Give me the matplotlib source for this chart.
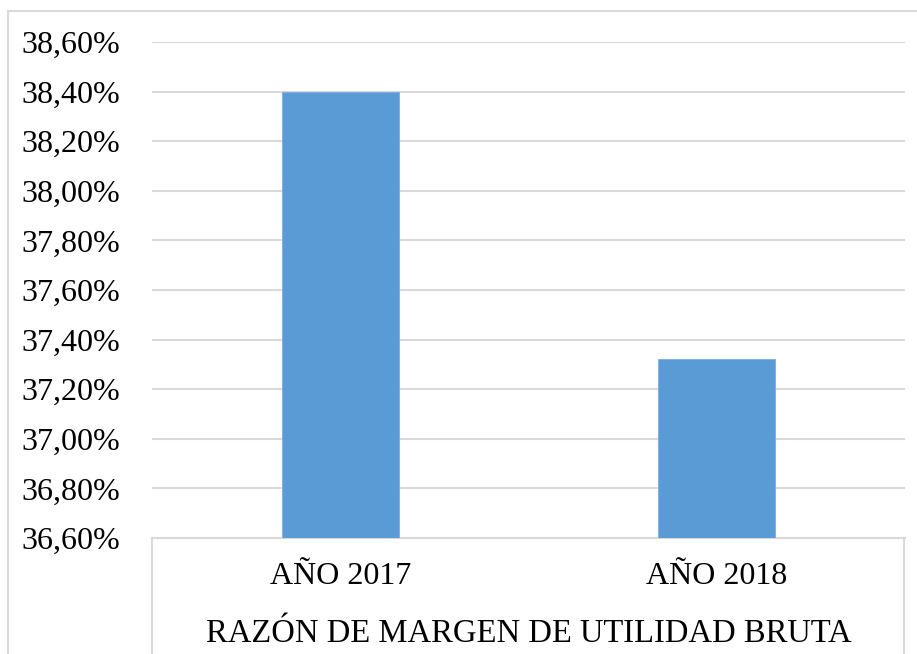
import matplotlib.pyplot as plt
from matplotlib.patches import Rectangle
from matplotlib.lines import Line2D
import numpy as np

categories = ["AÑO 2017", "AÑO 2018"]
values = [38.40, 37.32]
yticks = [36.60, 36.80, 37.00, 37.20, 37.40, 37.60, 37.80, 38.00, 38.20, 38.40, 38.60]
xtitle = "RAZÓN DE MARGEN DE UTILIDAD BRUTA"

plt.rcParams['font.family'] = ['Liberation Serif', 'DejaVu Serif']
grid_col = "#d9d9d9"

fig = plt.figure(figsize=(9.17, 6.54), dpi=100)
ax = fig.add_axes([152/917, 1-538/654, (905-152)/917, (538-42)/654])

x = np.arange(len(categories))
ax.bar(x, [v - yticks[0] for v in values], bottom=yticks[0], width=0.31,
       color="#5b9bd5", edgecolor="#7aaee0", linewidth=0.6, zorder=3)

ax.set_xlim(-0.5, 1.5)
ax.set_ylim(yticks[0], yticks[-1])
ax.set_yticks(yticks)
ax.set_yticklabels(["{:.2f}%".format(v).replace(".", ",") for v in yticks], fontsize=23)
ax.tick_params(axis="y", length=0, pad=23)
ax.set_xticks(x)
ax.set_xticklabels(categories, fontsize=23)
ax.tick_params(axis="x", length=0, pad=17)
ax.set_xlabel(xtitle, fontsize=23.5, labelpad=20)

ax.grid(axis="y", color=grid_col, linewidth=1.5, zorder=0)
for s in ["top", "right", "left"]:
    ax.spines[s].set_visible(False)
ax.spines["bottom"].set_color(grid_col)
ax.spines["bottom"].set_linewidth(1.5)

# category label box below the axis
for xp in [152/917, 904/917]:
    fig.add_artist(Line2D([xp, xp], [0, 1-538/654], color=grid_col, lw=1.5))

# outer chart border (cut off at right and bottom)
fig.add_artist(Rectangle((8/917, -0.1), 1.2, 1-11/654+0.1, fill=False,
                         edgecolor=grid_col, linewidth=1.5))

fig.savefig("out.png", dpi=100)
